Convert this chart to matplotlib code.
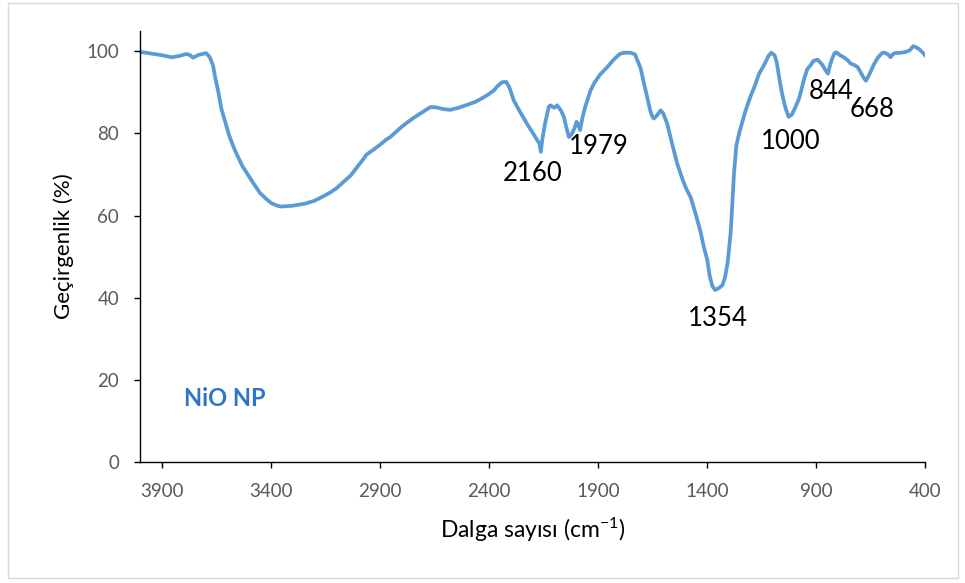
import matplotlib
matplotlib.use("Agg")
import matplotlib.pyplot as plt
from matplotlib.patches import Rectangle

plt.rcParams['font.family'] = ['Lato', 'DejaVu Sans']
plt.rcParams['mathtext.default'] = 'regular'

wavenumber = [4000, 3950, 3900, 3856, 3820, 3787, 3770, 3757, 3730, 3696, 3680, 3665, 3655, 3642,
              3627, 3611, 3590, 3565, 3530, 3489, 3450, 3420, 3397, 3370, 3351, 3300, 3244, 3200,
              3152, 3128, 3100, 3060, 3033, 2975, 2962, 2930, 2900, 2870, 2852, 2800, 2750, 2700,
              2668, 2640, 2610, 2577, 2540, 2496, 2460, 2439, 2410, 2378, 2360, 2340, 2320, 2305,
              2286, 2260, 2225, 2195, 2179, 2168, 2162, 2155, 2142, 2125, 2117, 2100, 2087, 2070,
              2056, 2045, 2033, 2020, 2008, 1998, 1990, 1982, 1970, 1958, 1934, 1916, 1890, 1857,
              1830, 1800, 1780, 1750, 1730, 1718, 1704, 1690, 1674, 1660, 1650, 1643, 1630, 1612,
              1600, 1582, 1560, 1536, 1510, 1492, 1475, 1455, 1429, 1415, 1398, 1388, 1375, 1362,
              1345, 1330, 1318, 1305, 1291, 1276, 1265, 1250, 1223, 1200, 1180, 1161, 1138, 1118,
              1105, 1090, 1080, 1068, 1055, 1039, 1025, 1010, 995, 977, 965, 954, 940, 924, 912,
              893, 878, 870, 855, 845, 836, 827, 815, 806, 790, 776, 755, 742, 720, 709, 695, 680,
              671, 660, 645, 635, 615, 595, 585, 570, 558, 548, 538, 510, 488, 470, 454, 440, 425,
              410, 400]
transmittance = [99.8, 99.4, 99.0, 98.5, 98.8, 99.3, 99.0, 98.4, 99.1, 99.5, 98.5, 96.5, 93.5, 90.4,
                 86.0, 83.1, 79.3, 75.9, 72.0, 68.6, 65.5, 64.0, 63.0, 62.4, 62.2, 62.4, 62.9, 63.6,
                 64.9, 65.6, 66.6, 68.5, 69.8, 73.8, 74.8, 76.0, 77.2, 78.5, 79.1, 81.6, 83.6, 85.3,
                 86.4, 86.3, 85.9, 85.7, 86.2, 87.0, 87.7, 88.3, 89.2, 90.4, 91.5, 92.4, 92.5, 91.0,
                 88.0, 85.5, 82.3, 79.8, 78.4, 77.5, 75.5, 78.5, 82.5, 86.5, 86.8, 86.2, 86.8, 85.6,
                 84.0, 81.5, 79.1, 79.8, 81.2, 82.8, 82.0, 80.8, 84.0, 86.5, 90.4, 92.3, 94.3, 96.1,
                 97.8, 99.3, 99.6, 99.6, 99.2, 97.6, 95.8, 92.4, 88.8, 85.5, 84.0, 83.6, 84.3, 85.6,
                 84.8, 82.3, 77.5, 72.6, 68.5, 66.2, 64.5, 61.0, 56.0, 52.5, 49.1, 45.5, 42.8, 41.9,
                 42.4, 43.0, 44.8, 48.5, 56.0, 70.2, 77.1, 80.5, 85.5, 89.0, 91.6, 94.5, 96.6, 98.8,
                 99.6, 99.0, 97.3, 93.3, 89.5, 86.0, 84.0, 84.6, 86.3, 88.5, 91.0, 93.3, 95.6, 96.6,
                 97.6, 97.9, 97.1, 96.6, 95.2, 94.5, 96.5, 98.0, 99.5, 99.7, 99.0, 98.6, 97.8, 97.0,
                 96.5, 96.1, 94.8, 93.4, 92.8, 93.8, 95.5, 96.7, 98.5, 99.6, 99.6, 99.2, 98.5, 99.2,
                 99.5, 99.6, 99.8, 100.2, 101.2, 100.9, 100.4, 99.6, 99.0]

peak_labels = ["2160", "1979", "1354", "1000", "844", "668"]
peak_label_x = [2200, 1897, 1349, 1018, 832, 642]
peak_label_y = [70.3, 76.8, 35.0, 77.9, 90.2, 85.7]

x_ticks = [3900, 3400, 2900, 2400, 1900, 1400, 900, 400]
y_ticks = [0, 20, 40, 60, 80, 100]

fig = plt.figure(figsize=(9.65, 5.83), dpi=100)
ax = fig.add_axes([140 / 965, 1 - 462.4 / 583, 785 / 965, (462.4 - 30.5) / 583])

ax.plot(wavenumber, transmittance, color='#5B9BD5', lw=2.7, solid_joinstyle='round')

ax.set_xlim(4000, 400)
ax.set_ylim(0, 105)
ax.set_xticks(x_ticks)
ax.set_yticks(y_ticks)
ax.set_xticklabels([str(t) for t in x_ticks])
ax.set_yticklabels([str(t) for t in y_ticks])

for sp in ['top', 'right']:
    ax.spines[sp].set_visible(False)
for sp in ['left', 'bottom']:
    ax.spines[sp].set_color('#000000')
    ax.spines[sp].set_linewidth(1.0)

ax.tick_params(axis='both', direction='out', length=4, width=1.0, color='#000000',
               labelsize=13.5, labelcolor='#595959')
ax.tick_params(axis='x', pad=11)
ax.tick_params(axis='y', pad=11)

ax.set_xlabel('Dalga sayısı (cm$^{-1}$)', fontsize=16.5, color='#000000', labelpad=11)
ax.set_ylabel('Geçirgenlik (%)', fontsize=16, color='#000000', labelpad=9)

for lab, lx, ly in zip(peak_labels, peak_label_x, peak_label_y):
    ax.text(lx, ly, lab, fontsize=18.5, color='#000000', ha='center', va='center')

ax.text(3612, 15.5, 'NiO NP', fontsize=17, fontweight='bold', color='#2E75C6',
        ha='center', va='center')

fig.patches.append(Rectangle((7.5 / 965, 1 - 578 / 583), (957.5 - 7.5) / 965, (578 - 2.5) / 583,
                             transform=fig.transFigure, fill=False, edgecolor='#D9D9D9', lw=1.0))

fig.savefig('out.png', dpi=100)
